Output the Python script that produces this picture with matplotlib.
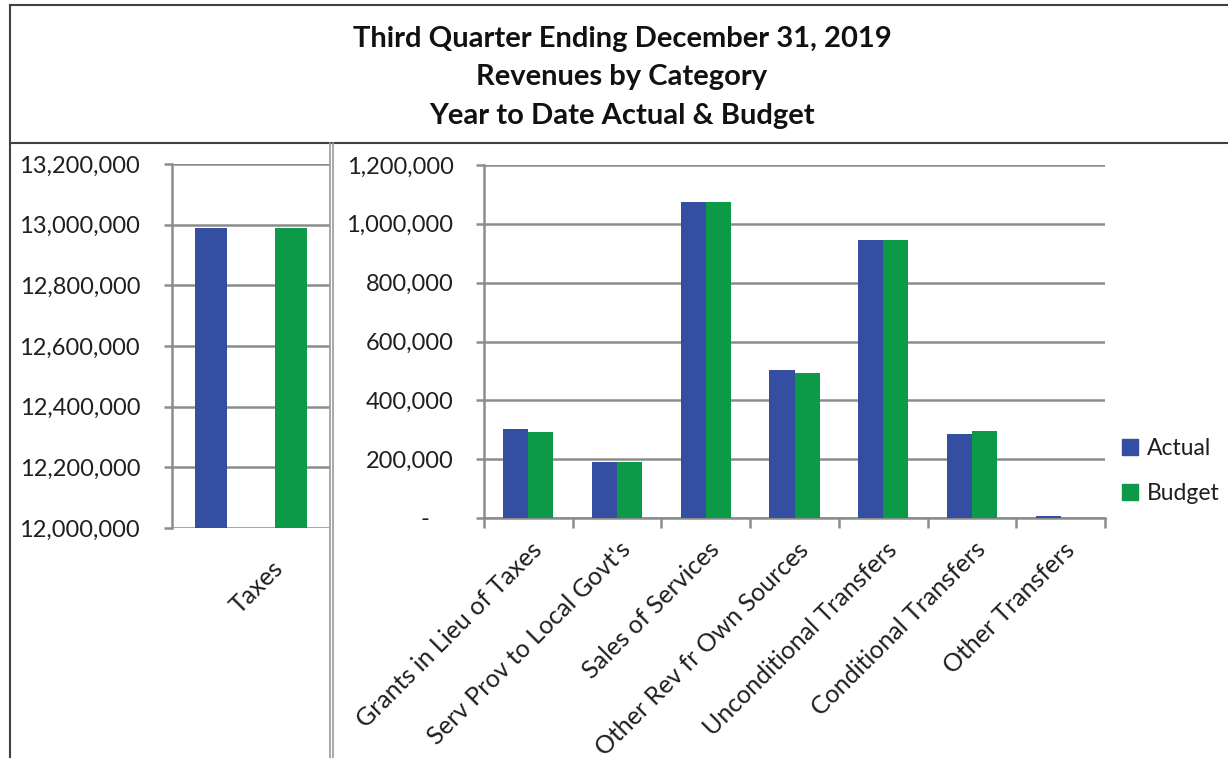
import matplotlib
matplotlib.use("Agg")
import matplotlib.pyplot as plt
from matplotlib.ticker import FuncFormatter, FixedLocator
from matplotlib.lines import Line2D
from matplotlib.patches import Patch
import matplotlib.transforms as mtransforms

plt.rcParams['font.family'] = ['Lato', 'DejaVu Sans']

# ---------------- data ----------------
title_lines = ["Third Quarter Ending December 31, 2019",
               "Revenues by Category",
               "Year to Date Actual & Budget"]
series_names = ["Actual", "Budget"]

left_categories = ["Taxes"]
left_actual = [12989000]
left_budget = [12989000]
left_yticks = [12000000, 12200000, 12400000, 12600000, 12800000, 13000000, 13200000]

right_categories = ["Grants in Lieu of Taxes", "Serv Prov to Local Govt's",
                    "Sales of Services", "Other Rev fr Own Sources",
                    "Unconditional Transfers", "Conditional Transfers",
                    "Other Transfers"]
right_actual = [301000, 191500, 1075000, 502000, 945000, 285500, 8000]
right_budget = [291500, 191000, 1075000, 492000, 945000, 294500, 0]
right_yticks = [0, 200000, 400000, 600000, 800000, 1000000, 1200000]

# ---------------- style ----------------
BLUE = "#344EA2"
GREEN = "#0C9A48"
GRID = "#8C8C8C"
TXT = "#1F1F1F"
W, H = 1228, 758

fig = plt.figure(figsize=(W / 100, H / 100), dpi=100)

def fx(px):
    return px / W

def fy(py):
    return 1 - py / H

# frame lines
fig.add_artist(Line2D([fx(10), 1], [fy(5), fy(5)], color="#404040", lw=1.5))
fig.add_artist(Line2D([fx(10), fx(10)], [fy(5), 0], color="#404040", lw=1.5))
fig.add_artist(Line2D([fx(10), 1], [fy(143), fy(143)], color="#404040", lw=1.5))
fig.add_artist(Line2D([fx(330), fx(330)], [fy(143), 0], color="#9A9A9A", lw=1.2))
fig.add_artist(Line2D([fx(333), fx(333)], [fy(143), 0], color="#9A9A9A", lw=1.2))

# title
for i, (t, y) in enumerate(zip(title_lines, [39, 77, 116])):
    fig.text(fx(622), fy(y), t, ha="center", va="center", fontsize=21,
             fontweight="bold", color="#111111")

fmt = FuncFormatter(lambda v, p: "-    " if v == 0 else f"{v:,.0f}")

def style_axis(ax, yticks, pad):
    ax.set_yticks(yticks)
    ax.yaxis.set_major_formatter(fmt)
    ax.grid(axis="y", color=GRID, lw=1.8)
    ax.set_axisbelow(True)
    for s in ["top", "right", "bottom"]:
        ax.spines[s].set_visible(False)
    ax.spines["left"].set_color(GRID)
    ax.spines["left"].set_linewidth(1.8)
    ax.tick_params(axis="y", length=6, width=1.8, color=GRID, pad=pad,
                   labelsize=17, labelcolor=TXT)

# ---------------- left panel ----------------
axL = fig.add_axes([fx(172), fy(528), fx(330) - fx(172), fy(164) - fy(528)])
xl = list(range(len(left_categories)))
off_l, w_l = 0.253, 0.2025
axL.bar([x - off_l for x in xl], left_actual, width=w_l, color=BLUE, zorder=3)
axL.bar([x + off_l for x in xl], left_budget, width=w_l, color=GREEN, zorder=3)
axL.set_xlim(-0.5, 0.5)
axL.set_ylim(left_yticks[0], left_yticks[-1])
style_axis(axL, left_yticks, 17)
axL.set_xticks(xl)
axL.set_xticklabels(left_categories, rotation=45, ha="right", va="center",
                    rotation_mode="anchor", fontsize=18, color=TXT)
axL.tick_params(axis="x", length=0, pad=0)
for lab in axL.get_xticklabels():
    lab.set_transform(lab.get_transform() + mtransforms.ScaledTranslation(
        28 / 100, -37 / 100, fig.dpi_scale_trans))

# ---------------- right panel ----------------
axR = fig.add_axes([fx(484), fy(518), fx(1105) - fx(484), fy(165) - fy(518)])
xr = list(range(len(right_categories)))
off_r, w_r = 0.141, 0.282
bA = axR.bar([x - off_r for x in xr], right_actual, width=w_r, color=BLUE, zorder=3)
bB = axR.bar([x + off_r for x in xr], right_budget, width=w_r, color=GREEN, zorder=3)
axR.set_xlim(-0.5, len(right_categories) - 0.5)
axR.set_ylim(right_yticks[0], right_yticks[-1])
style_axis(axR, right_yticks, 16)
axR.spines["bottom"].set_visible(True)
axR.spines["bottom"].set_color(GRID)
axR.spines["bottom"].set_linewidth(1.8)
axR.set_xticks(xr)
axR.set_xticklabels(right_categories, rotation=45, ha="right", va="center",
                    rotation_mode="anchor", fontsize=18, color=TXT)
axR.tick_params(axis="x", which="major", length=0, pad=0)
for lab in axR.get_xticklabels():
    lab.set_transform(lab.get_transform() + mtransforms.ScaledTranslation(
        10 / 100, -28 / 100, fig.dpi_scale_trans))
axR.xaxis.set_minor_locator(FixedLocator([x - 0.5 for x in xr] + [len(xr) - 0.5]))
axR.tick_params(axis="x", which="minor", length=7, width=1.8, color=GRID)

# legend
handles = [Patch(color=BLUE), Patch(color=GREEN)]
fig.legend(handles, series_names, loc="center left",
           bbox_to_anchor=(fx(1122), fy(471)), frameon=False, fontsize=16.5,
           handlelength=0.7, handleheight=0.7, handletextpad=0.4,
           labelspacing=1.05, labelcolor=TXT, borderpad=0, borderaxespad=0)

fig.savefig("out.png", dpi=100)
